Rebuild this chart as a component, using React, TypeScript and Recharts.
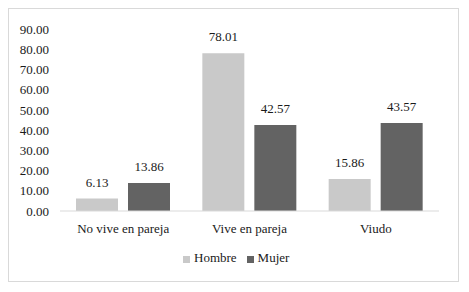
import { Bar, BarChart, LabelList, Legend, XAxis, YAxis } from "recharts";

const categories = ["No vive en pareja", "Vive en pareja", "Viudo"];
const hombre = [6.13, 78.01, 15.86];
const mujer = [13.86, 42.57, 43.57];
const yTicks = [0, 10, 20, 30, 40, 50, 60, 70, 80, 90];

const data = categories.map((name, i) => ({ name, Hombre: hombre[i], Mujer: mujer[i] }));

const FONT = "Times New Roman, Liberation Serif, Tinos, DejaVu Serif, serif";
const TICK = { fill: "#1a1a1a", fontSize: 13, fontFamily: FONT };
const fmt = (v: number) => v.toFixed(2);

export default function App() {
  return (
    <div
      style={{
        width: 449,
        height: 272,
        border: "1px solid #d9d9d9",
        background: "#fff",
        fontFamily: FONT,
      }}
    >
      <BarChart
        width={449}
        height={272}
        data={data}
        margin={{ top: 20, right: 19, left: 0, bottom: 24 }}
        barCategoryGap={16}
        barGap={10}
      >
        <XAxis
          dataKey="name"
          tick={TICK}
          tickLine={false}
          tickMargin={7}
          axisLine={{ stroke: "#d9d9d9" }}
        />
        <YAxis
          width={51}
          domain={[0, 90]}
          ticks={yTicks}
          interval={0}
          tickFormatter={fmt}
          tick={TICK}
          tickLine={false}
          axisLine={false}
          tickMargin={5}
        />
        <Legend
          iconType="square"
          iconSize={7}
          wrapperStyle={{ bottom: 15, left: 174, width: "auto", fontFamily: FONT, fontSize: 13 }}
          formatter={(v) => <span style={{ color: "#1a1a1a" }}>{v}</span>}
        />
        <Bar dataKey="Hombre" fill="#c9c9c9" isAnimationActive={false}>
          <LabelList dataKey="Hombre" position="top" offset={12} formatter={fmt} style={TICK} />
        </Bar>
        <Bar dataKey="Mujer" fill="#636363" isAnimationActive={false}>
          <LabelList dataKey="Mujer" position="top" offset={12} formatter={fmt} style={TICK} />
        </Bar>
      </BarChart>
    </div>
  );
}
